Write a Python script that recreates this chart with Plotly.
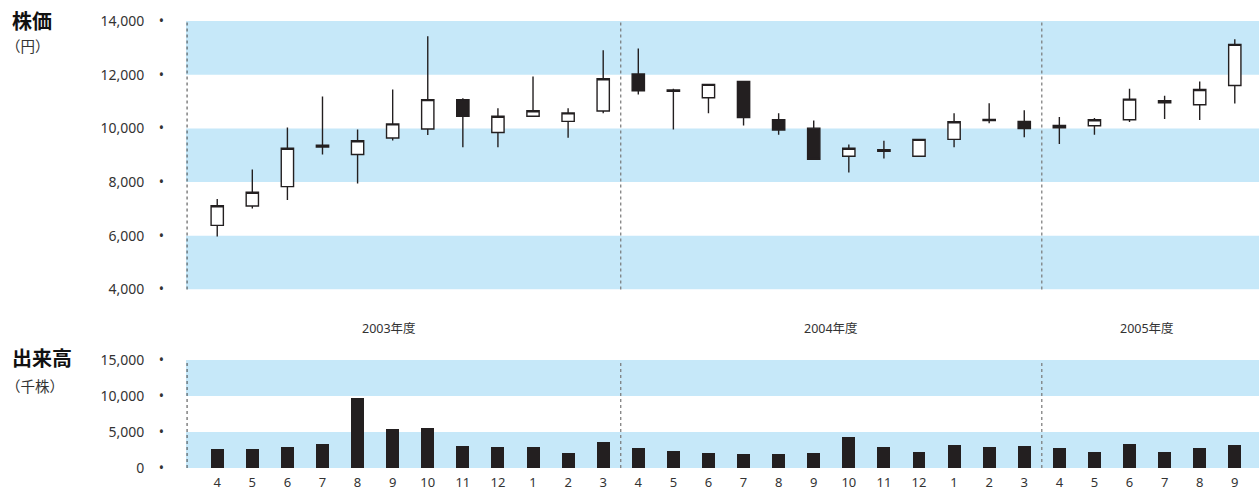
import plotly.graph_objects as go

# ---------------- data ----------------
months = ["4", "5", "6", "7", "8", "9", "10", "11", "12", "1", "2", "3",
          "4", "5", "6", "7", "8", "9", "10", "11", "12", "1", "2", "3",
          "4", "5", "6", "7", "8", "9"]

open_ = [6390, 7110, 7830, 9370, 9030, 9640, 9975, 11070, 9850, 10450, 10260, 10650,
         12030, 11430, 11140, 11750, 10320, 10010, 8960, 9210, 8960, 9590, 10330, 10260,
         10110, 10100, 10320, 11030, 10880, 11600]
high = [7370, 8470, 10030, 11190, 9960, 11450, 13430, 11120, 10750, 11930, 10750, 12910,
        12980, 11480, 11640, 11760, 10560, 10290, 9400, 9540, 9590, 10560, 10940, 10680,
        10420, 10390, 11480, 11220, 11750, 13320]
low = [5970, 7020, 7330, 9030, 7950, 9550, 9750, 9300, 9300, 10450, 9650, 10560,
       11260, 9960, 10560, 10110, 9760, 8820, 8360, 8880, 8960, 9300, 10190, 9670,
       9420, 9760, 10240, 10350, 10310, 10930]
close = [7120, 7620, 9260, 9310, 9540, 10170, 11070, 10450, 10450, 10660, 10580, 11850,
         11400, 11380, 11640, 10400, 9940, 8850, 9260, 9150, 9590, 10250, 10290, 9990,
         10020, 10320, 11090, 10950, 11450, 13130]

volume = [2640, 2640, 2870, 3290, 9720, 5370, 5560, 3060, 2870, 2870, 2080, 3660,
          2820, 2360, 2080, 1900, 1940, 2040, 4350, 2920, 2220, 3240, 2960, 3100,
          2730, 2180, 3380, 2270, 2780, 3240]

price_ticks = [4000, 6000, 8000, 10000, 12000, 14000]
volume_ticks = [0, 5000, 10000, 15000]
price_bands = [(4000, 6000), (8000, 10000), (12000, 14000)]
volume_bands = [(0, 5000), (10000, 15000)]

years = ["2003年度", "2004年度", "2005年度"]
year_pos = [4.9, 17.5, 26.5]
year_breaks = [11.5, 23.5]

price_title = "株価"
price_unit = "（円）"
volume_title = "出来高"
volume_unit = "（千株）"

# ---------------- figure ----------------
W, H = 1259, 493
DARK = "#231f20"
TXT = "#333333"
BLUE = "#c6e8f9"
FONT = "Noto Sans, Noto Sans CJK JP, sans-serif"

x = list(range(len(months)))


def py(p):
    return 1 - p / H


fig = go.Figure()

fig.add_trace(go.Candlestick(
    x=x, open=open_, high=high, low=low, close=close,
    xaxis="x", yaxis="y",
    increasing=dict(fillcolor="white", line=dict(color=DARK, width=1.4)),
    decreasing=dict(fillcolor=DARK, line=dict(color=DARK, width=1.4)),
    whiskerwidth=0, showlegend=False, hoverinfo="skip",
))

fig.add_trace(go.Bar(
    x=x, y=volume, xaxis="x2", yaxis="y2", width=0.37,
    marker=dict(color=DARK, line=dict(width=0)), showlegend=False,
))

xr = [-0.89, 29.69]
xdom = [186 / W, 1.0]

suffix = "\u00a0\u00a0\u00a0\u00a0•"

fig.update_layout(
    width=W, height=H,
    margin=dict(l=0, r=0, t=0, b=0, autoexpand=False),
    paper_bgcolor="white", plot_bgcolor="white",
    font=dict(family=FONT, color=TXT, size=14),
    boxgap=0.65, boxgroupgap=0,
    showlegend=False,
    xaxis=dict(domain=xdom, range=xr, anchor="y", showticklabels=False,
               showgrid=False, zeroline=False, showline=False, ticks="",
               automargin=False,
               rangeslider=dict(visible=False), fixedrange=True),
    yaxis=dict(domain=[py(289.5), py(21)], range=[4000, 14000], anchor="x",
               tickvals=price_ticks, ticktext=[f"{v:,}" + suffix for v in price_ticks],
               showgrid=False, zeroline=False, showline=False, ticks="",
               automargin=False,
               ticklabelstandoff=21, tickfont=dict(size=14, color=TXT)),
    xaxis2=dict(domain=xdom, range=xr, anchor="y2",
                tickvals=x, ticktext=months,
                showgrid=False, zeroline=False, showline=False, ticks="",
                automargin=False,
                ticklabelstandoff=5, tickfont=dict(size=13, color=TXT)),
    yaxis2=dict(domain=[py(468), py(360)], range=[0, 15000], anchor="x2",
                tickvals=volume_ticks, ticktext=[f"{v:,}" + suffix for v in volume_ticks],
                showgrid=False, zeroline=False, showline=False, ticks="",
                automargin=False,
                ticklabelstandoff=21, tickfont=dict(size=14, color=TXT)),
    bargap=0,
)

shapes = []
for lo, hi in price_bands:
    shapes.append(dict(type="rect", xref="x domain", yref="y", x0=0, x1=1, y0=lo, y1=hi,
                       fillcolor=BLUE, line=dict(width=0), layer="below"))
for lo, hi in volume_bands:
    shapes.append(dict(type="rect", xref="x2 domain", yref="y2", x0=0, x1=1, y0=lo, y1=hi,
                       fillcolor=BLUE, line=dict(width=0), layer="below"))

for yref in ["y domain", "y2 domain"]:
    xref = "x domain" if yref == "y domain" else "x2 domain"
    shapes.append(dict(type="line", xref=xref, yref=yref, x0=0.001, x1=0.001, y0=0, y1=1,
                       line=dict(color="#444444", width=1, dash="dot"), layer="above"))
    xd = "x" if yref == "y domain" else "x2"
    for b in year_breaks:
        shapes.append(dict(type="line", xref=xd, yref=yref, x0=b, x1=b, y0=0, y1=1,
                           line=dict(color="#777777", width=1.2, dash="dot"), layer="above"))

fig.update_layout(shapes=shapes)

ann = []
for name, pos in zip(years, year_pos):
    ann.append(dict(x=pos, xref="x", y=py(328), yref="paper", text=name, showarrow=False,
                    font=dict(size=12.5, color=TXT), xanchor="center", yanchor="middle"))

ann.append(dict(x=10 / W, xref="paper", y=py(20), yref="paper", text=f"<b>{price_title}</b>",
                showarrow=False, xanchor="left", yanchor="middle",
                font=dict(size=20, color="#111111", family="Noto Sans CJK JP")))
ann.append(dict(x=4 / W, xref="paper", y=py(46), yref="paper", text=price_unit,
                showarrow=False, xanchor="left", yanchor="middle",
                font=dict(size=14.5, color=TXT, family="Noto Sans CJK JP")))
ann.append(dict(x=10 / W, xref="paper", y=py(357), yref="paper", text=f"<b>{volume_title}</b>",
                showarrow=False, xanchor="left", yanchor="middle",
                font=dict(size=20, color="#111111", family="Noto Sans CJK JP")))
ann.append(dict(x=4 / W, xref="paper", y=py(385), yref="paper", text=volume_unit,
                showarrow=False, xanchor="left", yanchor="middle",
                font=dict(size=14.5, color=TXT, family="Noto Sans CJK JP")))

fig.update_layout(annotations=ann)

fig.write_html("out.html")
